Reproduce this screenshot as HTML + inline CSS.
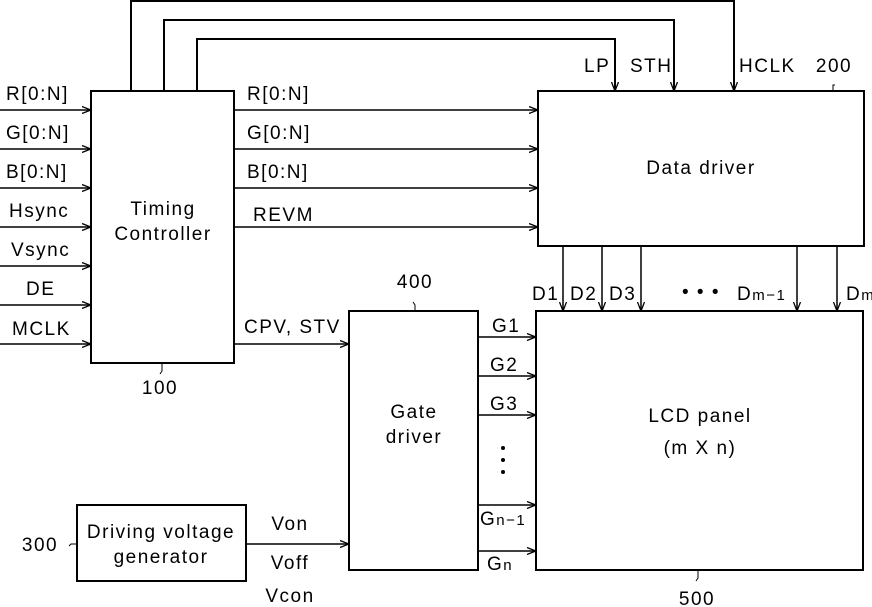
<!DOCTYPE html>
<html><head><meta charset="utf-8"><style>
html,body{margin:0;padding:0;background:#fff;}
svg{display:block;}
text{font-family:"Liberation Sans",sans-serif;font-size:19px;letter-spacing:1.5px;fill:#000;}
</style></head><body>
<svg width="872" height="607" viewBox="0 0 872 607" xmlns="http://www.w3.org/2000/svg">
<defs>
<marker id="a" markerWidth="10" markerHeight="8" refX="9" refY="4" orient="auto" markerUnits="userSpaceOnUse">
<path d="M0,0.5 L9,4 L0,7.5" fill="none" stroke="#000" stroke-width="1.3"/>
</marker>
</defs>
<g fill="none" stroke="#000" stroke-width="2">
<rect x="91" y="91" width="143" height="272"/>
<rect x="538" y="91" width="326" height="155"/>
<rect x="349" y="311" width="129" height="259"/>
<rect x="536" y="311" width="327" height="259"/>
<rect x="77" y="505" width="169" height="76"/>
<polyline points="131,91 131,1 734,1 734,91" marker-end="url(#a)"/>
<polyline points="164,91 164,20 674,20 674,91" marker-end="url(#a)"/>
<polyline points="197,91 197,39 615,39 615,91" marker-end="url(#a)"/>
</g>
<g stroke="#000" stroke-width="1.5" marker-end="url(#a)">
<line x1="0" y1="110" x2="91" y2="110"/>
<line x1="0" y1="149" x2="91" y2="149"/>
<line x1="0" y1="188" x2="91" y2="188"/>
<line x1="0" y1="227" x2="91" y2="227"/>
<line x1="0" y1="266" x2="91" y2="266"/>
<line x1="0" y1="305" x2="91" y2="305"/>
<line x1="0" y1="344" x2="91" y2="344"/>
<line x1="234" y1="110" x2="538" y2="110"/>
<line x1="234" y1="149" x2="538" y2="149"/>
<line x1="234" y1="188" x2="538" y2="188"/>
<line x1="234" y1="227" x2="538" y2="227"/>
<line x1="234" y1="344" x2="349" y2="344"/>
<line x1="246" y1="544" x2="349" y2="544"/>
<line x1="563" y1="246" x2="563" y2="311"/>
<line x1="602" y1="246" x2="602" y2="311"/>
<line x1="641" y1="246" x2="641" y2="311"/>
<line x1="797" y1="246" x2="797" y2="311"/>
<line x1="837" y1="246" x2="837" y2="311"/>
<line x1="478" y1="337" x2="536" y2="337"/>
<line x1="478" y1="376" x2="536" y2="376"/>
<line x1="478" y1="415" x2="536" y2="415"/>
<line x1="478" y1="505" x2="536" y2="505"/>
<line x1="478" y1="551" x2="536" y2="551"/>
</g>
<g stroke="#000" stroke-width="1" fill="none">
<path d="M162,363 L162,371 L160,374"/>
<path d="M415,311 L415,305 L413,302"/>
<path d="M698,570 L698,578 L696,581"/>
<path d="M833,91 L833,85 L835,85"/>
<path d="M77,544 L71,544 L69,546"/>
</g>
<text x="6" y="100">R[0:N]</text>
<text x="6" y="139">G[0:N]</text>
<text x="6" y="178">B[0:N]</text>
<text x="9" y="217">Hsync</text>
<text x="11" y="256">Vsync</text>
<text x="26" y="295">DE</text>
<text x="12" y="335">MCLK</text>
<text x="247" y="100">R[0:N]</text>
<text x="247" y="139">G[0:N]</text>
<text x="247" y="178">B[0:N]</text>
<text x="253" y="221">REVM</text>
<text x="244" y="333">CPV,  STV</text>
<text x="163" y="215" text-anchor="middle">Timing</text>
<text x="163" y="240" text-anchor="middle">Controller</text>
<text x="160" y="394" text-anchor="middle">100</text>
<text x="415" y="288" text-anchor="middle">400</text>
<text x="697" y="605" text-anchor="middle">500</text>
<text x="834" y="72" text-anchor="middle">200</text>
<text x="40" y="551" text-anchor="middle">300</text>
<text x="584" y="72">LP</text>
<text x="630" y="72">STH</text>
<text x="739" y="72">HCLK</text>
<text x="701" y="174" text-anchor="middle">Data  driver</text>
<text x="414" y="418" text-anchor="middle">Gate</text>
<text x="414" y="443" text-anchor="middle">driver</text>
<text x="700" y="422" text-anchor="middle">LCD  panel</text>
<text x="700" y="454" text-anchor="middle">(m  X  n)</text>
<text x="161" y="538" text-anchor="middle">Driving  voltage</text>
<text x="161" y="563" text-anchor="middle">generator</text>
<text x="290" y="530" text-anchor="middle">Von</text>
<text x="290" y="569" text-anchor="middle">Voff</text>
<text x="290" y="602" text-anchor="middle">Vcon</text>
<text x="532" y="300">D1</text>
<text x="570" y="300">D2</text>
<text x="609" y="300">D3</text>
<text x="682" y="298">• • •</text>
<text x="737" y="300">D<tspan font-size="15">m−1</tspan></text>
<text x="846" y="300">D<tspan font-size="15">m</tspan></text>
<text x="492" y="332">G1</text>
<text x="490" y="371">G2</text>
<text x="490" y="410">G3</text>
<circle cx="503" cy="448" r="2"/><circle cx="503" cy="460" r="2"/><circle cx="503" cy="472" r="2"/>
<text x="480" y="525">G<tspan font-size="15">n−1</tspan></text>
<text x="487" y="570">G<tspan font-size="15">n</tspan></text>
</svg>
</body></html>
